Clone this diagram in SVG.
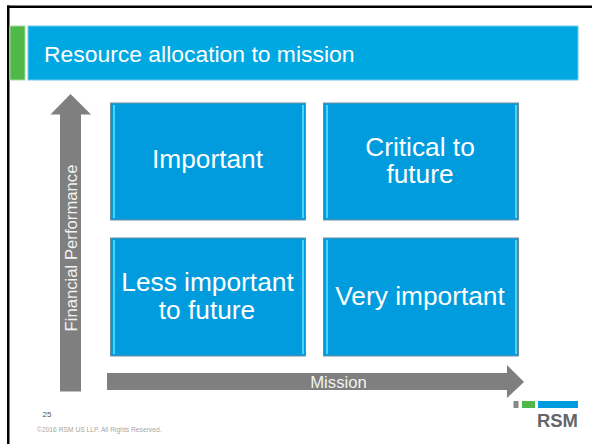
<svg xmlns="http://www.w3.org/2000/svg" width="592" height="444" viewBox="0 0 592 444">
<defs>
<style>
text{font-family:"Liberation Sans",Arial,sans-serif;fill:#fff;text-anchor:middle}
.box{fill:#009cde;stroke:#6f8c9e;stroke-width:1}
.edge{fill:#4fd2f7}
.lbl{font-size:26.300px}
.axis{fill:#7f7f7f}
.axl{font-size:16.700px;fill:#f2f2f2}
</style>
</defs>
<rect width="592" height="444" fill="#fff"/>
<g id="frame"><rect x="7" y="5.500" width="585" height="2.500" fill="#000"/><rect x="7" y="5.500" width="2.500" height="438.500" fill="#000"/></g>
<g id="header">
<rect x="10" y="26" width="15" height="54" fill="#4fb848" stroke="#a5dca0" stroke-width="1"/>
<rect x="28" y="26" width="550" height="54" fill="#00a8e1" stroke="#6fcbee" stroke-width="1"/>
<text x="44" y="62" font-size="22.900" style="text-anchor:start">Resource allocation to mission</text>
</g>
<g id="connectors">
<path id="axis-y" class="axis" d="M70.500 94L91 114.500H81V391.500H60V114.500H50.500Z"/>
<path id="axis-x" class="axis" d="M107 373H507V365L524 382L507 398V390H107Z"/>
</g>
<text class="axl" transform="translate(77 248) rotate(-90)">Financial Performance</text>
<text class="axl" x="338.500" y="388">Mission</text>
<g id="node-important">
<rect class="box" x="110.500" y="103" width="195" height="117"/>
<rect class="edge" x="113" y="105" width="2" height="113"/><rect class="edge" x="302" y="105" width="2" height="113"/>
<text class="lbl" x="207.500" y="168">Important</text>
</g>
<g id="node-critical">
<rect class="box" x="323.500" y="103" width="195" height="117"/>
<rect class="edge" x="326" y="105" width="2" height="113"/><rect class="edge" x="515" y="105" width="2" height="113"/>
<text class="lbl" x="420" y="156">Critical to</text>
<text class="lbl" x="420" y="183">future</text>
</g>
<g id="node-less">
<rect class="box" x="110.500" y="238" width="195" height="118"/>
<rect class="edge" x="113" y="240" width="2" height="114"/><rect class="edge" x="302" y="240" width="2" height="114"/>
<text class="lbl" x="207.500" y="291">Less important</text>
<text class="lbl" x="207" y="318.500">to future</text>
</g>
<g id="node-very">
<rect class="box" x="323.500" y="238" width="195" height="118"/>
<rect class="edge" x="326" y="240" width="2" height="114"/><rect class="edge" x="515" y="240" width="2" height="114"/>
<text class="lbl" x="420" y="305">Very important</text>
</g>
<g id="footer">
<text x="47" y="417" font-size="8" style="fill:#555">25</text>
<text x="37" y="432" font-size="6.700" style="fill:#a6a6a6;text-anchor:start">©2016 RSM US LLP. All Rights Reserved.</text>
</g>
<g id="logo">
<rect x="513.500" y="401" width="5" height="7" fill="#888"/>
<rect x="522" y="401" width="13" height="7" fill="#4fb848"/>
<rect x="538" y="401" width="40" height="7" fill="#009cde"/>
<text x="578" y="427" font-size="19" font-weight="bold" textLength="41" lengthAdjust="spacingAndGlyphs" style="fill:#63666a;text-anchor:end">RSM</text>
</g>
</svg>
